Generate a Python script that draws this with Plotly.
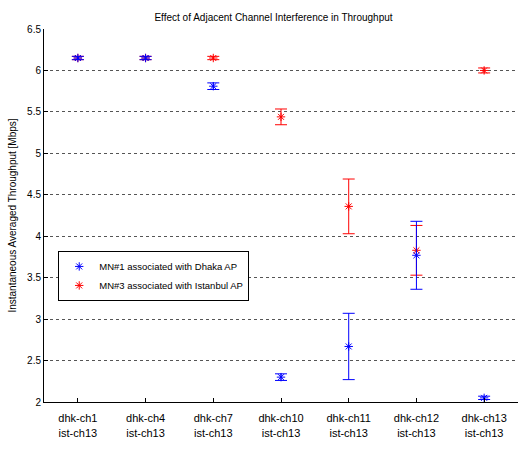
import plotly.graph_objects as go

categories = ["dhk-ch1<br>ist-ch13", "dhk-ch4<br>ist-ch13", "dhk-ch7<br>ist-ch13",
              "dhk-ch10<br>ist-ch13", "dhk-ch11<br>ist-ch13", "dhk-ch12<br>ist-ch13",
              "dhk-ch13<br>ist-ch13"]
x_pos = [1, 2, 3, 4, 5, 6, 7]

dhaka_mean = [6.15, 6.15, 5.81, 2.30, 2.67, 3.77, 2.05]
dhaka_err = [0.02, 0.02, 0.04, 0.04, 0.40, 0.41, 0.02]

istanbul_mean = [6.15, 6.15, 6.15, 5.44, 4.36, 3.83, 6.00]
istanbul_err = [0.02, 0.02, 0.02, 0.095, 0.33, 0.30, 0.03]

y_ticks = [2, 2.5, 3, 3.5, 4, 4.5, 5, 5.5, 6, 6.5]

fig = go.Figure()
fig.add_trace(go.Scatter(
    x=x_pos, y=istanbul_mean, mode="markers",
    name="MN#3 associated with Istanbul AP",
    marker=dict(symbol="asterisk-open", size=7, color="red", line=dict(color="red", width=1)),
    error_y=dict(type="data", array=istanbul_err, color="red", thickness=1, width=6),
    legendrank=2,
))
fig.add_trace(go.Scatter(
    x=x_pos, y=dhaka_mean, mode="markers",
    name="MN#1 associated with Dhaka AP",
    marker=dict(symbol="asterisk-open", size=7, color="blue", line=dict(color="blue", width=1)),
    error_y=dict(type="data", array=dhaka_err, color="blue", thickness=1, width=6),
    legendrank=1,
))

fig.update_layout(
    width=524, height=450,
    margin=dict(l=44, r=6, t=29, b=48),
    paper_bgcolor="white", plot_bgcolor="white",
    font=dict(family="Liberation Sans, Arial, sans-serif", size=10, color="black"),
    title=dict(text="Effect of Adjacent Channel Interference in Throughput",
               x=0.522, xanchor="center", y=0.962, yanchor="middle",
               font=dict(size=10)),
    showlegend=True,
    legend=dict(x=0.03, y=0.405, xanchor="left", yanchor="top",
                bordercolor="black", borderwidth=1, bgcolor="white",
                font=dict(size=9.5), tracegroupgap=0, itemwidth=30),
    xaxis=dict(range=[0.5, 7.5], tickmode="array", tickvals=x_pos, ticktext=categories,
               showgrid=False, zeroline=False, showline=True, linecolor="black",
               linewidth=1, ticks="inside", ticklen=4, tickcolor="black",
               ticklabelstandoff=6,
               tickfont=dict(size=11)),
    yaxis=dict(range=[2, 6.5], tickmode="array", tickvals=y_ticks,
               ticktext=[("%g" % v) for v in y_ticks],
               showgrid=True, gridcolor="#555555", griddash="dot", gridwidth=1,
               zeroline=False, showline=True, linecolor="black", linewidth=1,
               ticks="inside", ticklen=4, tickcolor="black",
               title=dict(text="Instantaneous Averaged Throughput [Mbps]", standoff=8,
                          font=dict(size=10)),
               tickfont=dict(size=10)),
)

fig.write_html("out.html")
